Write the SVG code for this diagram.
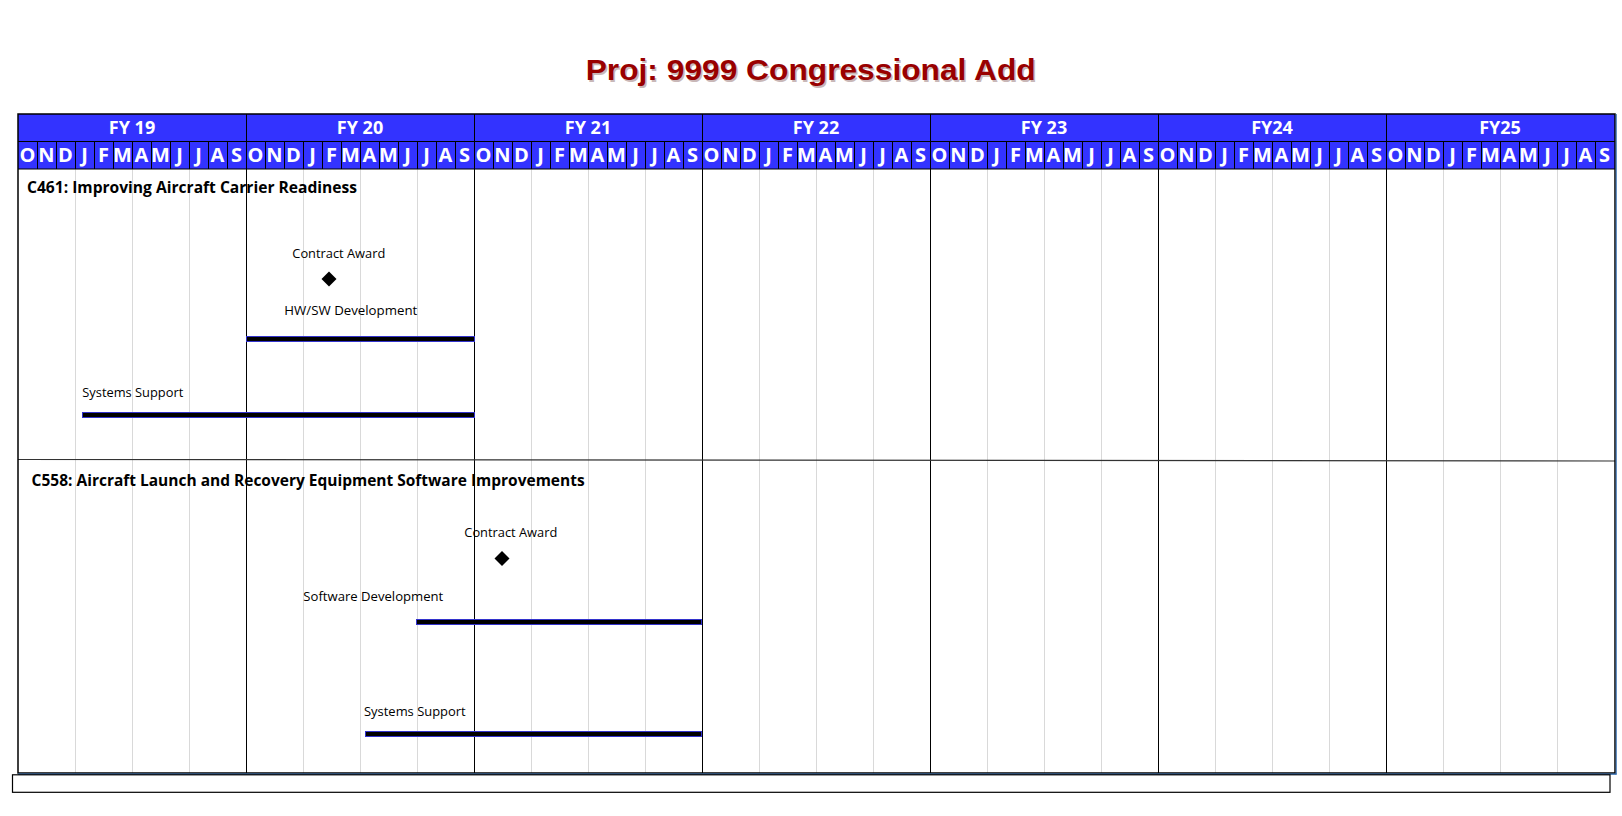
<svg xmlns="http://www.w3.org/2000/svg" width="1622" height="816" viewBox="0 0 1622 816">
<style>
.hdr{fill:#3333FF}
.fy{font-family:"Open Sans","Liberation Sans",sans-serif;font-weight:bold;font-size:18px;fill:#fff;text-anchor:middle}
.mo{font-family:"Open Sans","Liberation Sans",sans-serif;font-weight:bold;font-size:20px;fill:#fff;text-anchor:middle}
.sec{font-family:"Open Sans","Liberation Sans",sans-serif;font-weight:bold;fill:#000}
.lbl{font-family:"Open Sans","Liberation Sans",sans-serif;font-size:13px;fill:#000}
.gq{stroke:#D9D9D9;stroke-width:1}
.gy{stroke:#000;stroke-width:1}
.bar{fill:#000;stroke:#3333CC;stroke-width:1}
.ms{fill:#000}
</style>
<rect width="1622" height="816" fill="#fff"/>
<g id="title">
<text x="587.2" y="81.5" font-family="Liberation Sans, Arial, sans-serif" font-weight="bold" font-size="30" fill="#C9B8B8" textLength="450" lengthAdjust="spacingAndGlyphs">Proj: 9999 Congressional Add</text>
<text x="585.7" y="80" font-family="Liberation Sans, Arial, sans-serif" font-weight="bold" font-size="30" fill="#990000" textLength="450" lengthAdjust="spacingAndGlyphs">Proj: 9999 Congressional Add</text>
</g>
<g id="grid">
<rect x="18" y="169" width="1597" height="604" fill="#fff"/>
<g class="gq">
<line x1="75.5" y1="169" x2="75.5" y2="773"/><line x1="132.5" y1="169" x2="132.5" y2="773"/><line x1="189.5" y1="169" x2="189.5" y2="773"/>
<line x1="303.5" y1="169" x2="303.5" y2="773"/><line x1="360.5" y1="169" x2="360.5" y2="773"/><line x1="417.5" y1="169" x2="417.5" y2="773"/>
<line x1="531.5" y1="169" x2="531.5" y2="773"/><line x1="588.5" y1="169" x2="588.5" y2="773"/><line x1="645.5" y1="169" x2="645.5" y2="773"/>
<line x1="759.5" y1="169" x2="759.5" y2="773"/><line x1="816.5" y1="169" x2="816.5" y2="773"/><line x1="873.5" y1="169" x2="873.5" y2="773"/>
<line x1="987.5" y1="169" x2="987.5" y2="773"/><line x1="1044.5" y1="169" x2="1044.5" y2="773"/><line x1="1101.5" y1="169" x2="1101.5" y2="773"/>
<line x1="1215.5" y1="169" x2="1215.5" y2="773"/><line x1="1272.5" y1="169" x2="1272.5" y2="773"/><line x1="1329.5" y1="169" x2="1329.5" y2="773"/>
<line x1="1443.5" y1="169" x2="1443.5" y2="773"/><line x1="1500.5" y1="169" x2="1500.5" y2="773"/><line x1="1557.5" y1="169" x2="1557.5" y2="773"/>
</g>
<g class="gy">
<line x1="246.5" y1="114" x2="246.5" y2="773"/><line x1="474.5" y1="114" x2="474.5" y2="773"/><line x1="702.5" y1="114" x2="702.5" y2="773"/>
<line x1="930.5" y1="114" x2="930.5" y2="773"/><line x1="1158.5" y1="114" x2="1158.5" y2="773"/><line x1="1386.5" y1="114" x2="1386.5" y2="773"/>
</g>
<line x1="18" y1="459.5" x2="1615" y2="461" stroke="#333" stroke-width="1.2"/>
</g>
<g id="header">
<rect class="hdr" x="18" y="114" width="1597" height="55"/>
<line x1="18" y1="141.5" x2="1615" y2="141.5" stroke="#000" stroke-width="1"/>
<line x1="18" y1="169" x2="1615" y2="169" stroke="#000" stroke-width="1.2"/>
<g stroke="#000" stroke-width="1">
<path d="M37.5 141.5V169M56.5 141.5V169M75.5 141.5V169M94.5 141.5V169M113.5 141.5V169M132.5 141.5V169M151.5 141.5V169M170.5 141.5V169M189.5 141.5V169M208.5 141.5V169M227.5 141.5V169M246.5 114V169"/>
<path d="M265.5 141.5V169M284.5 141.5V169M303.5 141.5V169M322.5 141.5V169M341.5 141.5V169M360.5 141.5V169M379.5 141.5V169M398.5 141.5V169M417.5 141.5V169M436.5 141.5V169M455.5 141.5V169M474.5 114V169"/>
<path d="M493.5 141.5V169M512.5 141.5V169M531.5 141.5V169M550.5 141.5V169M569.5 141.5V169M588.5 141.5V169M607.5 141.5V169M626.5 141.5V169M645.5 141.5V169M664.5 141.5V169M683.5 141.5V169M702.5 114V169"/>
<path d="M721.5 141.5V169M740.5 141.5V169M759.5 141.5V169M778.5 141.5V169M797.5 141.5V169M816.5 141.5V169M835.5 141.5V169M854.5 141.5V169M873.5 141.5V169M892.5 141.5V169M911.5 141.5V169M930.5 114V169"/>
<path d="M949.5 141.5V169M968.5 141.5V169M987.5 141.5V169M1006.5 141.5V169M1025.5 141.5V169M1044.5 141.5V169M1063.5 141.5V169M1082.5 141.5V169M1101.5 141.5V169M1120.5 141.5V169M1139.5 141.5V169M1158.5 114V169"/>
<path d="M1177.5 141.5V169M1196.5 141.5V169M1215.5 141.5V169M1234.5 141.5V169M1253.5 141.5V169M1272.5 141.5V169M1291.5 141.5V169M1310.5 141.5V169M1329.5 141.5V169M1348.5 141.5V169M1367.5 141.5V169M1386.5 114V169"/>
<path d="M1405.5 141.5V169M1424.5 141.5V169M1443.5 141.5V169M1462.5 141.5V169M1481.5 141.5V169M1500.5 141.5V169M1519.5 141.5V169M1538.5 141.5V169M1557.5 141.5V169M1576.5 141.5V169M1595.5 141.5V169"/>
</g>
<text class="fy" x="132" y="134">FY 19</text>
<text class="fy" x="360" y="134">FY 20</text>
<text class="fy" x="588" y="134">FY 21</text>
<text class="fy" x="816" y="134">FY 22</text>
<text class="fy" x="1044" y="134">FY 23</text>
<text class="fy" x="1272" y="134">FY24</text>
<text class="fy" x="1500" y="134">FY25</text>
<g class="mo">
<text x="27.5" y="162">O</text><text x="46.5" y="162">N</text><text x="65.5" y="162">D</text><text x="84.5" y="162">J</text><text x="103.5" y="162">F</text><text x="122.5" y="162">M</text><text x="141.5" y="162">A</text><text x="160.5" y="162">M</text><text x="179.5" y="162">J</text><text x="198.5" y="162">J</text><text x="217.5" y="162">A</text><text x="236.5" y="162">S</text>
<text x="255.5" y="162">O</text><text x="274.5" y="162">N</text><text x="293.5" y="162">D</text><text x="312.5" y="162">J</text><text x="331.5" y="162">F</text><text x="350.5" y="162">M</text><text x="369.5" y="162">A</text><text x="388.5" y="162">M</text><text x="407.5" y="162">J</text><text x="426.5" y="162">J</text><text x="445.5" y="162">A</text><text x="464.5" y="162">S</text>
<text x="483.5" y="162">O</text><text x="502.5" y="162">N</text><text x="521.5" y="162">D</text><text x="540.5" y="162">J</text><text x="559.5" y="162">F</text><text x="578.5" y="162">M</text><text x="597.5" y="162">A</text><text x="616.5" y="162">M</text><text x="635.5" y="162">J</text><text x="654.5" y="162">J</text><text x="673.5" y="162">A</text><text x="692.5" y="162">S</text>
<text x="711.5" y="162">O</text><text x="730.5" y="162">N</text><text x="749.5" y="162">D</text><text x="768.5" y="162">J</text><text x="787.5" y="162">F</text><text x="806.5" y="162">M</text><text x="825.5" y="162">A</text><text x="844.5" y="162">M</text><text x="863.5" y="162">J</text><text x="882.5" y="162">J</text><text x="901.5" y="162">A</text><text x="920.5" y="162">S</text>
<text x="939.5" y="162">O</text><text x="958.5" y="162">N</text><text x="977.5" y="162">D</text><text x="996.5" y="162">J</text><text x="1015.5" y="162">F</text><text x="1034.5" y="162">M</text><text x="1053.5" y="162">A</text><text x="1072.5" y="162">M</text><text x="1091.5" y="162">J</text><text x="1110.5" y="162">J</text><text x="1129.5" y="162">A</text><text x="1148.5" y="162">S</text>
<text x="1167.5" y="162">O</text><text x="1186.5" y="162">N</text><text x="1205.5" y="162">D</text><text x="1224.5" y="162">J</text><text x="1243.5" y="162">F</text><text x="1262.5" y="162">M</text><text x="1281.5" y="162">A</text><text x="1300.5" y="162">M</text><text x="1319.5" y="162">J</text><text x="1338.5" y="162">J</text><text x="1357.5" y="162">A</text><text x="1376.5" y="162">S</text>
<text x="1395.5" y="162">O</text><text x="1414.5" y="162">N</text><text x="1433.5" y="162">D</text><text x="1452.5" y="162">J</text><text x="1471.5" y="162">F</text><text x="1490.5" y="162">M</text><text x="1509.5" y="162">A</text><text x="1528.5" y="162">M</text><text x="1547.5" y="162">J</text><text x="1566.5" y="162">J</text><text x="1585.5" y="162">A</text><text x="1604.5" y="162">S</text>
</g>
</g>
<g id="frame">
<rect x="18" y="114" width="1597" height="659" fill="none" stroke="#000" stroke-width="1.5"/>
<line x1="18" y1="774.2" x2="1616.5" y2="774.2" stroke="#1F5FA8" stroke-width="1.2"/>
<line x1="1616.2" y1="114" x2="1616.2" y2="774.5" stroke="#1F5FA8" stroke-width="1"/>
<rect x="12.5" y="774.8" width="1597.5" height="17.5" fill="none" stroke="#000" stroke-width="1.2"/>
</g>
<g id="section-c461">
<text class="sec" x="27" y="192.5" font-size="16" textLength="330" lengthAdjust="spacingAndGlyphs">C461: Improving Aircraft Carrier Readiness</text>
</g>
<g id="c461-contract-award">
<text class="lbl" x="292.3" y="257.5" textLength="93" lengthAdjust="spacingAndGlyphs">Contract Award</text>
<polygon class="ms" points="329,271.5 336.5,279 329,286.5 321.5,279"/>
</g>
<g id="c461-hwsw-development">
<text class="lbl" x="284.3" y="315.3" textLength="133" lengthAdjust="spacingAndGlyphs">HW/SW Development</text>
<rect class="bar" x="246.5" y="336.5" width="228" height="5"/>
</g>
<g id="c461-systems-support">
<text class="lbl" x="82.3" y="396.7" textLength="101" lengthAdjust="spacingAndGlyphs">Systems Support</text>
<rect class="bar" x="82.5" y="412.5" width="392" height="5"/>
</g>
<g id="section-c558">
<text class="sec" x="31.6" y="485.5" font-size="16.5" textLength="553" lengthAdjust="spacingAndGlyphs">C558: Aircraft Launch and Recovery Equipment Software Improvements</text>
</g>
<g id="c558-contract-award">
<text class="lbl" x="464.3" y="536.7" textLength="93" lengthAdjust="spacingAndGlyphs">Contract Award</text>
<polygon class="ms" points="502,551 509.5,558.5 502,566 494.5,558.5"/>
</g>
<g id="c558-software-development">
<text class="lbl" x="303.3" y="600.7" textLength="140" lengthAdjust="spacingAndGlyphs">Software Development</text>
<rect class="bar" x="416.5" y="619.5" width="285" height="5"/>
</g>
<g id="c558-systems-support">
<text class="lbl" x="364" y="715.7" textLength="101.7" lengthAdjust="spacingAndGlyphs">Systems Support</text>
<rect class="bar" x="365.5" y="731.5" width="336" height="5"/>
</g>
</svg>
